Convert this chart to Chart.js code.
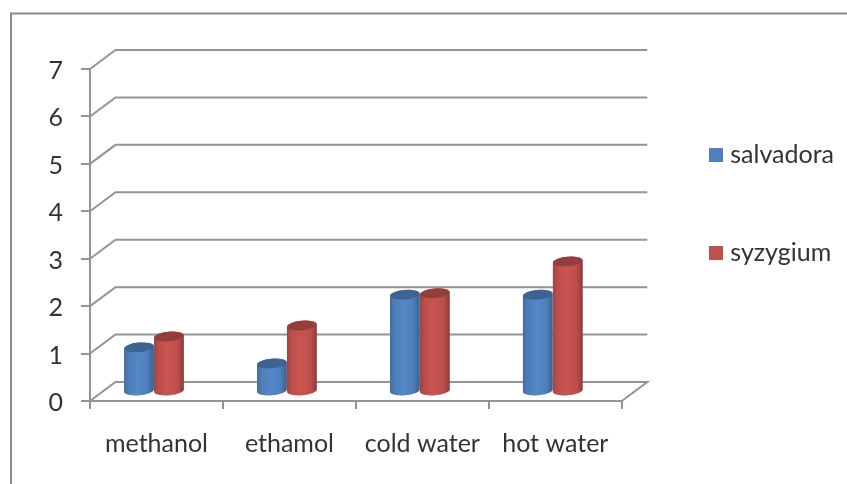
<!DOCTYPE html>
<html><head><meta charset="utf-8">
<style>html,body{margin:0;padding:0;background:#fff}#w{width:847px;height:484px}</style>
<script src="https://cdn.jsdelivr.net/npm/chart.js@4/dist/chart.umd.js"></script>
</head><body><div id="w"><canvas id="c"></canvas></div>
<script>
const categories = ['methanol','ethamol','cold water','hot water'];
const salvadora = [0.93,0.59,2.04,2.04];
const syzygium = [1.16,1.39,2.07,2.74];
const seriesColors = ['#4f81bd','#c0504d'];
const DEPTH_X = 25.5, DEPTH_Y = 19, BAR_SHIFT_X = -2.5, BAR_SHIFT_Y = 9.5;
const GRID = '#949494', FONT = 'Lato', TEXT = '#333333';

function shade(hex, f){
  const n = parseInt(hex.slice(1),16);
  const ch = s => Math.max(0,Math.min(255,Math.round(((n>>s)&255)*f)));
  return `rgb(${ch(16)},${ch(8)},${ch(0)})`;
}
function swatch(col){
  const s = document.createElement('canvas'); s.width = 14; s.height = 14;
  const k = s.getContext('2d'); k.fillStyle = col; k.fillRect(0,0,14,14);
  return s;
}
// Bars are drawn as cylinders from the geometry the library computes
Chart.BarElement.prototype.draw = function(ctx){
  const {x,y,base,width,options} = this;
  const col = options.backgroundColor;
  const cx = x + BAR_SHIFT_X, rx = width/2, ry = 4.8, rot = -0.09;
  const top = y - BAR_SHIFT_Y, bot = base - BAR_SHIFT_Y;
  const g = ctx.createLinearGradient(cx-rx,0,cx+rx,0);
  g.addColorStop(0, shade(col,0.84));
  g.addColorStop(0.15, shade(col,0.97));
  g.addColorStop(0.45, shade(col,1.05));
  g.addColorStop(0.78, shade(col,0.99));
  g.addColorStop(1, shade(col,0.74));
  ctx.save();
  ctx.beginPath();
  ctx.ellipse(cx,bot,rx,ry,rot,0,Math.PI);
  ctx.ellipse(cx,top,rx,ry,rot,Math.PI,Math.PI*2);
  ctx.closePath();
  ctx.fillStyle = g; ctx.fill();
  ctx.beginPath();
  ctx.ellipse(cx,top,rx-0.5,ry,rot,0,Math.PI*2);
  ctx.fillStyle = shade(col,0.77); ctx.fill();
  ctx.restore();
};
const frame = {
  id:'frame',
  beforeDraw(chart){
    const c = chart.ctx;
    c.save(); c.strokeStyle='#8a8a8a'; c.lineWidth=2;
    c.beginPath(); c.moveTo(11,chart.height); c.lineTo(11,13.5); c.lineTo(chart.width,13.5); c.stroke();
    c.restore();
  },
  afterLayout(chart){
    const l = chart.legend;
    l.left = chart.scales.x.right + 19; l.right = chart.width; l.top = 69;
  },
  beforeDatasetsDraw(chart){
    const c = chart.ctx, ys = chart.scales.y, xs = chart.scales.x;
    c.save(); c.strokeStyle=GRID; c.lineWidth=2; c.lineJoin='miter';
    ys.ticks.forEach(t=>{
      const p = ys.getPixelForValue(t.value);
      c.beginPath(); c.moveTo(xs.left,p); c.lineTo(xs.left+DEPTH_X,p-DEPTH_Y); c.lineTo(xs.right+DEPTH_X,p-DEPTH_Y);
      if(t.value===ys.min) c.lineTo(xs.right,p);
      c.stroke();
    });
    c.restore();
  }
};
new Chart(document.getElementById('c'),{
  type:'bar',
  data:{labels:categories,datasets:[
    {label:'salvadora',data:salvadora,backgroundColor:seriesColors[0]},
    {label:'syzygium',data:syzygium,backgroundColor:seriesColors[1]}
  ]},
  plugins:[frame],
  options:{
    responsive:true,maintainAspectRatio:false,animation:false,
    layout:{padding:{top:69,left:0,right:22,bottom:0}},
    datasets:{bar:{barPercentage:1,categoryPercentage:0.451,borderWidth:0}},
    scales:{
      x:{
        afterFit(s){s.height=83;},
        grid:{drawOnChartArea:false,drawTicks:true,tickLength:8,color:GRID,lineWidth:2},
        border:{display:true,color:GRID,width:2},
        ticks:{font:{family:FONT,size:25},color:TEXT,padding:20,maxRotation:0}
      },
      y:{
        min:0,max:7,
        afterFit(s){s.width=90;},
        grid:{drawOnChartArea:false,drawTicks:true,tickLength:9,color:GRID,lineWidth:2},
        border:{display:true,color:GRID,width:2},
        ticks:{stepSize:1,font:{family:FONT,size:25},color:TEXT,padding:18,labelOffset:2}
      }
    },
    plugins:{
      tooltip:{enabled:false},
      legend:{
        position:'right',align:'start',maxWidth:225,
        labels:{usePointStyle:true,pointStyleWidth:4,boxHeight:14,padding:73,color:TEXT,font:{family:FONT,size:25},
          generateLabels(chart){
            return chart.data.datasets.map((d,i)=>({text:d.label,fillStyle:d.backgroundColor,strokeStyle:d.backgroundColor,lineWidth:0,datasetIndex:i,fontColor:TEXT,pointStyle:swatch(d.backgroundColor)}));
          }}
      }
    }
  }
});
</script></body></html>
